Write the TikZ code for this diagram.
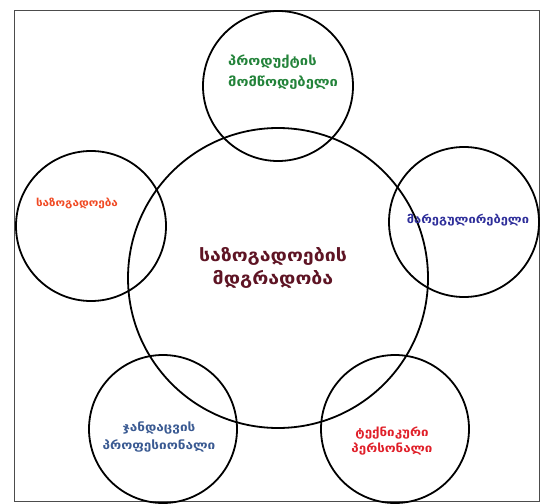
\documentclass[tikz,border=0pt]{standalone}
\usepackage{fontspec}
\newfontfamily\geo[FakeStretch=1.15]{DejaVu Sans}
\definecolor{cgreen}{HTML}{23833A}
\definecolor{corange}{HTML}{F04A24}
\definecolor{cblue}{HTML}{2E2E9A}
\definecolor{cmaroon}{HTML}{5E1424}
\definecolor{csteel}{HTML}{3A5A92}
\definecolor{cred}{HTML}{E0202A}
\begin{document}
\begin{tikzpicture}[x=1pt,y=-1pt,
  ring/.style={draw=black,line width=1.8pt,circle,inner sep=0pt,minimum size=#1},
  lbl/.style={font=\geo\bfseries,align=center,inner sep=0pt}]
\useasboundingbox (0,0) rectangle (540,503);
\draw[draw=black!70,line width=1pt] (14.5,10.5) rectangle (539.5,501.5);
\node[ring=300pt] (c) at (278,278) {};
\node[ring=150pt] (t) at (278,86) {};
\node[ring=150pt] (l) at (91,226) {};
\node[ring=150pt] (r) at (464,222) {};
\node[ring=148pt] (bl) at (163,429) {};
\node[ring=148pt] (br) at (395,429) {};
\node[lbl,text=cmaroon,font=\geo\bfseries\fontsize{17}{23}\selectfont] (ct) at (273,268) {საზოგადოების\\მდგრადობა};
\node[lbl,text=cgreen,align=left,anchor=west,font=\geo\bfseries\fontsize{12.8}{21}\selectfont] (tt) at (228,72) {პროდუქტის\\მომწოდებელი};
\node[lbl,text=corange,font=\geo\bfseries\fontsize{10.2}{15}\selectfont] (lt) at (77,203) {საზოგადოება};
\node[lbl,text=cblue,font=\geo\bfseries\fontsize{11.2}{15}\selectfont] (rt) at (468,220) {მარეგულირებელი};
\node[lbl,text=csteel,font=\geo\bfseries\fontsize{11.8}{18}\selectfont] (blt) at (159,437) {ჯანდაცვის\\პროფესიონალი};
\node[lbl,text=cred,font=\geo\bfseries\fontsize{11.6}{16}\selectfont] (brt) at (392,441) {ტექნიკური\\პერსონალი};
\end{tikzpicture}
\end{document}
